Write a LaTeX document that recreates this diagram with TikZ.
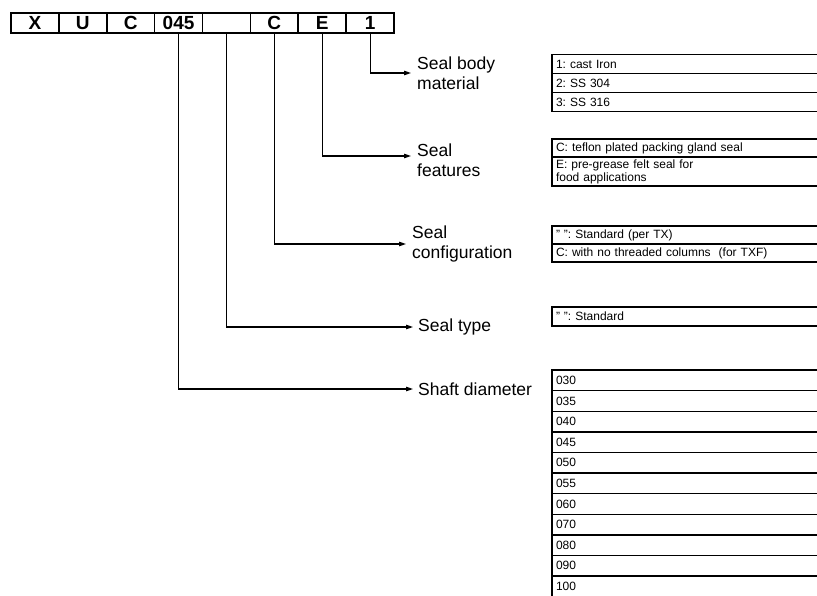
\documentclass[tikz,border=0pt]{standalone}
\usepackage{fontspec}
\setmainfont{Liberation Sans}
\usetikzlibrary{arrows.meta,positioning}
\frenchspacing
\tikzset{
  codecell/.style={draw,line width=1.6pt,minimum width=47.9pt,minimum height=20pt,inner sep=0pt,outer sep=0pt,font=\fontsize{19}{20}\selectfont\bfseries},
  lbl/.style={anchor=west,align=left,inner sep=0pt,font=\fontsize{17.5}{20.5}\selectfont},
  optrow/.style={draw,line width=1.4pt,anchor=north west,minimum width=300pt,text width=292pt,align=left,inner xsep=2pt,inner ysep=1pt,outer sep=0pt,font=\fontsize{12}{13}\selectfont},
  arr/.style={-{Triangle[length=7pt,width=4.5pt]},line width=1.1pt}
}

\begin{document}
\begin{tikzpicture}[x=1pt,y=-1pt]
  \useasboundingbox (0,0) rectangle (817,595);
  \clip (0,0) rectangle (817,595);

  % Code boxes
  \foreach \t [count=\i] in {X,U,C,045,{},C,E,1}
    \node[codecell] (c\i) at ({11+47.875*(\i-0.5)},23) {\t};

  % Labels
  \node[lbl] (lbody) at (417,73) {Seal body\\material};
  \node[lbl] (lfeat) at (417,160) {Seal\\features};
  \node[lbl] (lconf) at (412,244) {Seal\\configuration};
  \node[lbl] (ltype) at (418,327) {Seal type};
  \node[lbl] (lshaft) at (418,389) {Shaft diameter};

  % Leader lines
  \draw[arr, shorten >=6pt] (c8.south) |- (lbody.west);
  \draw[arr, shorten >=6pt] (c7.south) |- ([yshift=4pt]lfeat.west);
  \draw[arr, shorten >=6pt] (c6.south) |- (lconf.west);
  \draw[arr, shorten >=5pt] (c5.south) |- (ltype.west);
  \draw[arr, shorten >=5pt] (c4.south) |- (lshaft.west);

  % Seal body material
  \node[optrow, minimum height=19pt] (m1) at (552,54.5) {1: cast Iron};
  \node[optrow, minimum height=19pt, below=0pt of m1] (m2) {2: SS 304};
  \node[optrow, minimum height=19pt, below=0pt of m2] (m3) {3: SS 316};

  % Seal features
  \node[optrow, minimum height=18pt] (f1) at (552,139) {C: teflon plated packing gland seal};
  \node[optrow, minimum height=29pt, below=0pt of f1] (f2) {E: pre-grease felt seal for\\food applications};

  % Seal configuration
  \node[optrow, minimum height=18pt] (k1) at (552,226) {" ": Standard (per TX)};
  \node[optrow, minimum height=18pt, below=0pt of k1] (k2) {C: with no threaded columns\ \ (for TXF)};

  % Seal type
  \node[optrow, minimum height=19pt] (t1) at (552,307) {" ": Standard};

  % Shaft diameter
  \foreach \d [count=\i] in {030,035,040,045,050,055,060,070,080,090,100}
    \node[optrow, minimum height=20.6pt] (s\i) at (552,{370+20.6*(\i-1)}) {\d};

\end{tikzpicture}
\end{document}
